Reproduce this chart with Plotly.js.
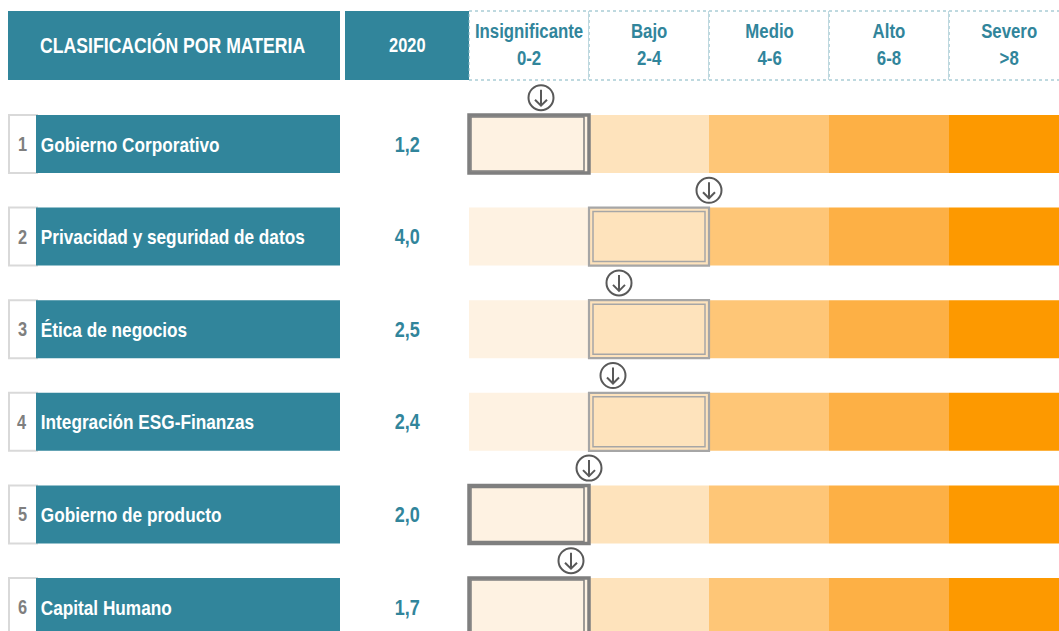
<!DOCTYPE html>
<html>
<head>
<meta charset="utf-8">
<script src="https://cdn.plot.ly/plotly-3.0.1.min.js"></script>
<style>html,body{margin:0;padding:0;background:#fff;}#chart{width:1059px;height:631px;}</style>
</head>
<body>
<div id="chart"></div>
<script>
// ---- data ----
const categories = ['Gobierno Corporativo', 'Privacidad y seguridad de datos', 'Ética de negocios', 'Integración ESG-Finanzas', 'Gobierno de producto', 'Capital Humano'];
const scores = [1.2, 4.0, 2.5, 2.4, 2.0, 1.7];
const bandNames = ['Insignificante', 'Bajo', 'Medio', 'Alto', 'Severo'];
const bandRanges = ['0-2', '2-4', '4-6', '6-8', '>8'];
const bandEdges = [0, 2, 4, 6, 8, 10];
const headerLabels = ['CLASIFICACIÓN POR MATERIA', '2020'];

// ---- styling / layout helpers ----
const bandColors = ['#FEF2E2', '#FEE3BC', '#FEC677', '#FDB045', '#FD9900'];
const teal = '#31859B';
const FONT = '"Liberation Sans", Arial, sans-serif';
const NARROW = 0.82;     // horizontal condensing of text (Arial Narrow look)
const PXU = 60;          // pixels per score unit
const X0PX = 469;        // pixel of score 0
const ROWPX = 92.6;      // row pitch in px
const Y0PX = 144;        // pixel center of row 0
const px2x = p => (p - X0PX) / PXU;
const py2y = p => (p - Y0PX) / ROWPX;
const rowH = 58 / ROWPX;
const W = 1059, H = 631;

const idx = categories.map((_, i) => i);

const traces = bandNames.map((name, b) => ({
  type: 'bar', orientation: 'h',
  y: idx,
  x: idx.map(() => bandEdges[b + 1] - bandEdges[b]),
  base: idx.map(() => bandEdges[b]),
  width: idx.map(() => rowH),
  marker: { color: bandColors[b], line: { width: 0 } },
  hoverinfo: 'skip', showlegend: false
}));

const shapes = [];
const annotations = [];

// header boxes
const hTop = py2y(11), hBot = py2y(80), hMid = py2y(45);
shapes.push({ type: 'rect', xref: 'x', yref: 'y', x0: px2x(8), x1: px2x(340), y0: hTop, y1: hBot, fillcolor: teal, line: { width: 0 }, layer: 'below' });
shapes.push({ type: 'rect', xref: 'x', yref: 'y', x0: px2x(345), x1: px2x(469), y0: hTop, y1: hBot, fillcolor: teal, line: { width: 0 }, layer: 'below' });
annotations.push({ xref: 'x', yref: 'y', x: px2x(172.5), y: hMid, text: '<b>' + headerLabels[0] + '</b>', showarrow: false, font: { family: FONT, size: 21.5, color: '#ffffff' } });
annotations.push({ xref: 'x', yref: 'y', x: px2x(407.5), y: hMid, text: '<b>' + headerLabels[1] + '</b>', showarrow: false, font: { family: FONT, size: 20, color: '#ffffff' } });

// band header cells
bandNames.forEach((name, b) => {
  shapes.push({ type: 'rect', xref: 'x', yref: 'y', x0: bandEdges[b], x1: bandEdges[b + 1], y0: hTop, y1: hBot, fillcolor: '#ffffff', line: { color: '#7fb3c0', width: 1, dash: 'dot' } });
  annotations.push({ xref: 'x', yref: 'y', x: (bandEdges[b] + Math.min(bandEdges[b + 1], bandEdges[b] + 2)) / 2, y: py2y(44), text: '<b>' + name + '</b><br><b>' + bandRanges[b] + '</b>', showarrow: false, align: 'center', font: { family: FONT, size: 20.5, color: teal } });
});

// rows
// insets (px) of the inner frame line: [left, right, top, bottom]
const boxStyles = [
  { color: '#7f7f7f', outer: 3.5, inner: 1.5, inset: [2, 5, 2, 2] },
  { color: '#a6a6a6', outer: 2.2, inner: 1.5, inset: [4, 4, 4, 4] }
];
categories.forEach((cat, i) => {
  const y0 = i - rowH / 2, y1 = i + rowH / 2;
  // number box
  shapes.push({ type: 'rect', xref: 'x', yref: 'y', x0: px2x(9), x1: px2x(37), y0: y0, y1: y1, fillcolor: '#ffffff', line: { color: '#d9d9d9', width: 2 } });
  shapes.push({ type: 'rect', xref: 'x', yref: 'y', x0: px2x(36), x1: px2x(340), y0: y0, y1: y1, fillcolor: teal, line: { width: 0 } });
  annotations.push({ xref: 'x', yref: 'y', x: px2x(22), y: i, text: '<b>' + (i + 1) + '</b>', showarrow: false, font: { family: FONT, size: 20, color: '#7f7f7f' } });
  annotations.push({ xref: 'x', yref: 'y', x: px2x(39), y: i, xanchor: 'left', text: '<b>' + cat + '</b>', showarrow: false, font: { family: FONT, size: 21, color: '#ffffff' } });
  annotations.push({ xref: 'x', yref: 'y', x: px2x(407), y: i, text: '<b>' + scores[i].toFixed(1).replace('.', ',') + '</b>', showarrow: false, font: { family: FONT, size: 22, color: teal } });

  // highlighted band
  const b = Math.max(0, Math.ceil(scores[i] / 2) - 1);
  const st = boxStyles[Math.min(b, 1)];
  shapes.push({ type: 'rect', xref: 'x', yref: 'y', x0: bandEdges[b], x1: bandEdges[b + 1], y0: y0, y1: y1, line: { color: st.color, width: st.outer } });
  shapes.push({ type: 'rect', xref: 'x', yref: 'y', x0: bandEdges[b] + st.inset[0] / PXU, x1: bandEdges[b + 1] - st.inset[1] / PXU, y0: y0 + st.inset[2] / ROWPX, y1: y1 - st.inset[3] / ROWPX, line: { color: st.color, width: st.inner } });

  // arrow marker above the row at the score position
  const ya = i - 0.5;
  shapes.push({ type: 'circle', xref: 'x', yref: 'y', xsizemode: 'pixel', ysizemode: 'pixel', xanchor: scores[i], yanchor: ya, x0: -12.5, x1: 12.5, y0: -12.5, y1: 12.5, fillcolor: '#ffffff', line: { color: '#595959', width: 2 } });
  shapes.push({ type: 'path', xref: 'x', yref: 'y', xsizemode: 'pixel', ysizemode: 'pixel', xanchor: scores[i], yanchor: ya, path: 'M0,8 L0,-8 M-6,-2 L0,-8 L6,-2', line: { color: '#595959', width: 2 } });
});

const layout = {
  width: W, height: H,
  margin: { l: 0, r: 0, t: 0, b: 0, pad: 0 },
  paper_bgcolor: '#ffffff', plot_bgcolor: '#ffffff',
  barmode: 'overlay',
  xaxis: { range: [px2x(0), px2x(W)], visible: false, fixedrange: true },
  yaxis: { range: [py2y(H), py2y(0)], visible: false, fixedrange: true },
  shapes: shapes, annotations: annotations,
  showlegend: false
};

Plotly.newPlot('chart', traces, layout, { displayModeBar: false, staticPlot: true }).then(gd => {
  // condense annotation text horizontally around its anchor (narrow typeface look)
  gd.querySelectorAll('g.annotation').forEach(a => {
    const k = +a.getAttribute('data-index');
    const ann = annotations[k];
    const g = a.querySelector('g.annotation-text-g');
    if (!g) return;
    const bb = g.getBBox();
    const ax = ann.xanchor === 'left' ? bb.x : bb.x + bb.width / 2;
    g.setAttribute('transform', 'translate(' + ax + ',0) scale(' + NARROW + ',1) translate(' + (-ax) + ',0)');
  });
});
</script>
</body>
</html>
